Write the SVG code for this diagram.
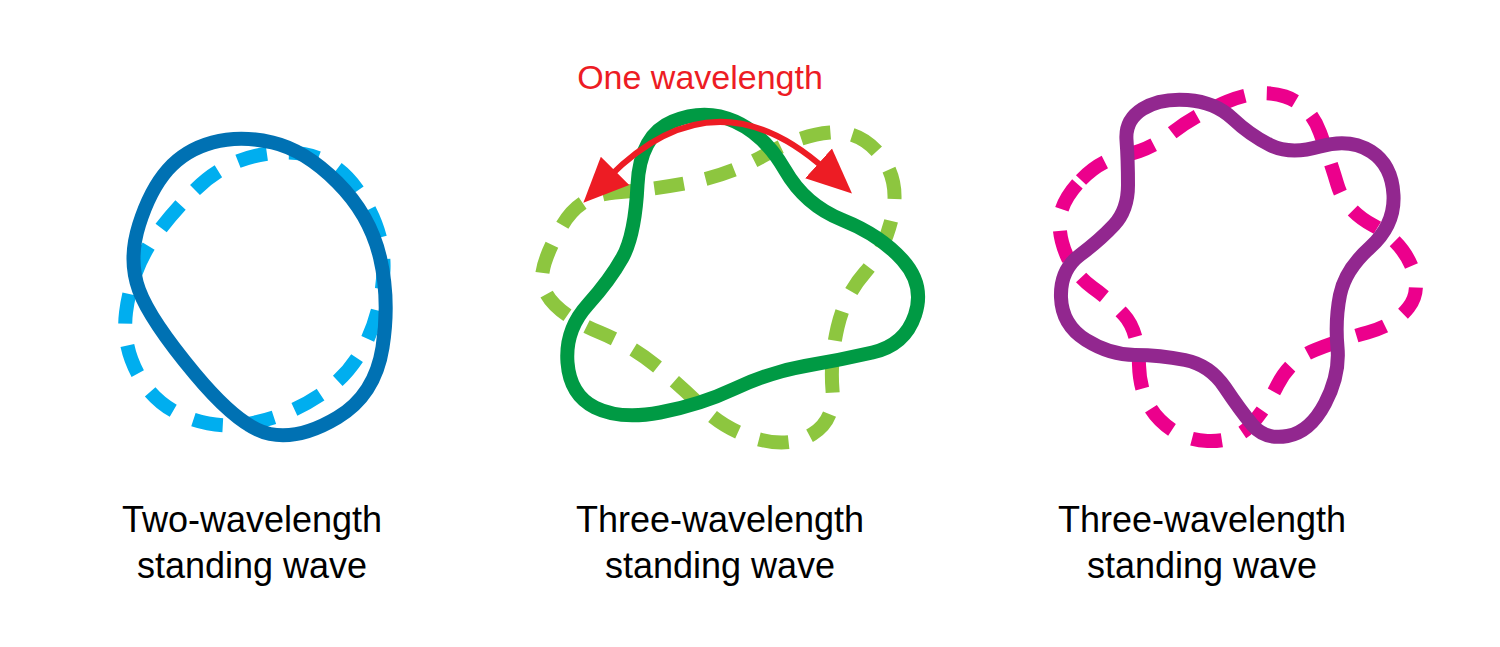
<svg xmlns="http://www.w3.org/2000/svg" width="1500" height="647" viewBox="0 0 1500 647">
<style>
.s{fill:none;stroke-width:14;stroke-linejoin:round}
.d{fill:none;stroke-width:14;stroke-dasharray:30 22}
.t{font-family:"Liberation Sans",Arial,sans-serif;font-size:36px;fill:#000;text-anchor:middle}
</style>
<defs>
<marker id="ah" markerUnits="userSpaceOnUse" markerWidth="50" markerHeight="50" refX="10" refY="20" orient="auto-start-reverse" viewBox="0 0 50 40">
<path d="M0,0 L45,20 L0,40 Z" fill="#ed1c24"/>
</marker>
</defs>
<rect width="1500" height="647" fill="#fff"/>
<g id="left">
<path class="d" stroke="#00aeef" d="M195,190 Q230,155 280,152.5 Q330,150 357.5,190 Q385,230 383.5,270 Q382,310 366,342.5 Q350,375 320,395 Q290,415 255,422.5 Q220,430 187.5,417.5 Q155,405 138.5,375 Q122,345 126,312.5 Q130,280 145,252.5 Q160,225 195,190Z"/>
<path class="s" stroke="#0071b3" d="M212.5,142.5 Q240,135 272.5,142.5 Q305,150 337.5,182.5 Q370,215 380,257.5 Q390,300 382.5,347.5 Q375,395 337.5,417.5 Q300,440 270,434 Q240,428 195,374 Q150,320 139,290 Q128,260 139,225 Q150,190 167.5,170 Q185,150 212.5,142.5Z"/>
<text class="t" x="252" y="532">Two-wavelength</text>
<text class="t" x="252" y="578">standing wave</text>
</g>
<g id="middle">
<path class="d" stroke="#8dc63f" d="M562.5,225 Q580,195 615,192.5 Q650,190 690,182.5 Q730,175 765,155 Q800,135 830,132.5 Q860,130 880,155 Q900,180 892.5,215 Q885,250 865,272.5 Q845,295 837.5,327.5 Q830,360 832.5,390 Q835,420 812.5,434 Q790,448 757.5,439 Q725,430 702.5,407.5 Q680,385 655,365 Q630,345 600,332.5 Q570,320 555,305 Q540,290 542.5,272.5 Q545,255 562.5,225Z"/>
<path class="s" stroke="#009a44" d="M637.5,185 Q640,135 672.5,121.5 Q705,108 735,121.5 Q765,135 785,170 Q805,205 842.5,220 Q880,235 902.5,260 Q925,285 915,315 Q905,345 872.5,352.5 Q840,360 805,366 Q770,372 735,388.5 Q700,405 660,412.5 Q620,420 595,407.5 Q570,395 567.5,362.5 Q565,330 587.5,305 Q610,280 622.5,257.5 Q635,235 637.5,185Z"/>
<text class="t" x="720" y="532">Three-wavelength</text>
<text class="t" x="720" y="578">standing wave</text>
</g>
<g id="right">
<path class="d" stroke="#ec008c" d="M1081,180 Q1100,160 1125,155 Q1150,150 1172.5,132.5 Q1195,115 1227.5,101.5 Q1260,88 1285,96.5 Q1310,105 1320,132.5 Q1330,160 1337.5,185 Q1345,210 1372.5,225 Q1400,240 1411,265 Q1422,290 1408.5,307.5 Q1395,325 1367.5,332.5 Q1340,340 1315,350 Q1290,360 1277.5,385 Q1265,410 1250,426 Q1235,442 1207.5,441 Q1180,440 1160,420 Q1140,400 1139,365 Q1138,330 1124,315 Q1110,300 1092.5,287.5 Q1075,275 1066.5,255 Q1058,235 1060,217.5 Q1062,200 1081,180Z"/>
<path class="s" stroke="#92278f" d="M1142.5,109 Q1160,98 1187.5,100 Q1215,102 1232.5,118.5 Q1250,135 1270,145 Q1290,155 1320,146.5 Q1350,138 1371,151.5 Q1392,165 1393.5,195 Q1395,225 1370,247.5 Q1345,270 1340,295 Q1335,320 1337.5,347.5 Q1340,375 1325,403.5 Q1310,432 1287.5,436 Q1265,440 1252.5,425 Q1240,410 1225,387.5 Q1210,365 1185,360 Q1160,355 1135,355 Q1110,355 1086,340 Q1062,325 1061,297.5 Q1060,270 1080,255 Q1100,240 1114,225 Q1128,210 1128,185 Q1128,160 1126.5,140 Q1125,120 1142.5,109Z"/>
<text class="t" x="1202" y="532">Three-wavelength</text>
<text class="t" x="1202" y="578">standing wave</text>
</g>
<g id="connectors">
<path d="M608,178 Q715,70 826,170" fill="none" stroke="#ed1c24" stroke-width="6" marker-start="url(#ah)" marker-end="url(#ah)"/>
<text x="700" y="89" font-family="Liberation Sans,Arial,sans-serif" font-size="34" fill="#ed1c24" text-anchor="middle">One wavelength</text>
</g>
</svg>
